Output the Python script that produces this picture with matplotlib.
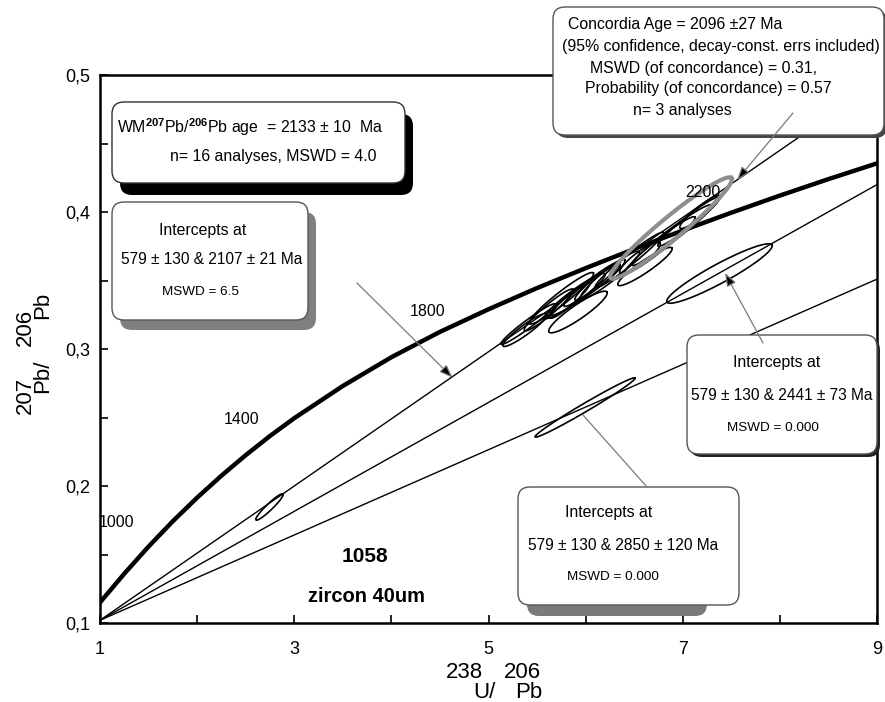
import numpy as np
import matplotlib
matplotlib.use('Agg')
import matplotlib.pyplot as plt
from matplotlib.patches import FancyBboxPatch
from matplotlib.ticker import FuncFormatter

plt.rcParams['font.family'] = ['Liberation Sans', 'DejaVu Sans']
plt.rcParams['mathtext.fontset'] = 'custom'
plt.rcParams['mathtext.rm'] = 'Liberation Sans'
plt.rcParams['mathtext.bf'] = 'Liberation Sans:bold'

# curva concórdia (238U/206Pb, 207Pb/206Pb)
conc_x = [1.0, 1.25, 1.5, 1.75, 2.0, 2.25, 2.5, 2.75, 3.0, 3.5, 4.0, 4.5, 5.0,
          5.5, 6.0, 6.5, 7.0, 7.5, 8.0, 8.5, 9.0]
conc_y = [0.115, 0.136, 0.1558, 0.1743, 0.1915, 0.2075, 0.2225, 0.2365, 0.2495, 0.273, 0.294, 0.3125, 0.329,
          0.3445, 0.359, 0.373, 0.3865, 0.3995, 0.412, 0.424, 0.4355]

# idades marcadas na concórdia
idades = ['1000', '1400', '1800', '2200']
idades_x = [1.175, 2.462, 4.377, 7.208]
idades_y = [0.1737, 0.2482, 0.3277, 0.4139]

# discórdias: intercepto inferior comum e valor em x = 9
disc_x0, disc_y0 = 1.0, 0.102
disc_x1 = 9.0
disc_y1 = [0.494, 0.420, 0.351]

# elipses de erro: centro, meio eixo maior (dx, dy) e razão menor/maior
ell_x = [5.407, 5.376, 5.921, 5.891, 5.994, 6.066, 6.148, 5.839, 6.611, 6.766, 6.889, 7.054, 7.178, 6.560,
         5.75, 6.25, 6.45, 5.62,
         2.745, 7.378, 5.994]
ell_y = [0.3182, 0.3139, 0.3270, 0.3387, 0.3431, 0.3474, 0.3504, 0.3358, 0.3602, 0.3759, 0.3832, 0.3927, 0.4000, 0.3664,
         0.3370, 0.3540, 0.3650, 0.3285,
         0.1847, 0.3551, 0.2573]
ell_dx = [0.278, 0.2265, 0.2986, 0.309, 0.360, 0.288, 0.257, 0.206, 0.278, 0.360, 0.412, 0.309, 0.206, 0.206,
          0.33, 0.30, 0.35, 0.25,
          0.139, 0.5405, 0.515]
ell_dy = [0.0146, 0.0117, 0.0146, 0.0161, 0.0182, 0.0161, 0.0146, 0.0131, 0.0135, 0.0204, 0.0219, 0.0175, 0.0117, 0.0109,
          0.0185, 0.0170, 0.0200, 0.0150,
          0.0095, 0.0208, 0.0215]
ell_r = [0.12, 0.18, 0.20, 0.16, 0.14, 0.14, 0.16, 0.18, 0.18, 0.13, 0.12, 0.13, 0.20, 0.24,
         0.15, 0.17, 0.12, 0.16,
         0.17, 0.16, 0.07]

# elipse da idade concórdia
conc_ell = (6.879, 0.3883, 0.623, 0.0365, 0.14)

# pontos indicados pelas setas das caixas
setas_x = [4.63, 7.559, 7.435, 5.973]
setas_y = [0.279, 0.4234, 0.3555, 0.2518]


def virgula(v, pos):
    return ('%g' % v).replace('.', ',')


fig = plt.figure(figsize=(8.85, 7.02), dpi=100)
ax = fig.add_axes([100 / 885, 79 / 702, 777 / 885, 548 / 702])
ax.set_xlim(1, 9)
ax.set_ylim(0.1, 0.5)

# escala em pixels por unidade, para as elipses ficarem com o eixo menor perpendicular na tela
sx = 777 / 8.0
sy = 548 / 0.4


def elipse(cx, cy, dx, dy, r, **kw):
    t = np.linspace(0, 2 * np.pi, 240)
    ex = -dy * sy / sx * r
    ey = dx * sx / sy * r
    ax.plot(cx + dx * np.cos(t) + ex * np.sin(t), cy + dy * np.cos(t) + ey * np.sin(t), **kw)


# discórdias
for y1 in disc_y1:
    ax.plot([disc_x0, disc_x1], [disc_y0, y1], color='black', lw=1.0, zorder=2)

# concórdia
ax.plot(conc_x, conc_y, color='black', lw=3.2, zorder=3, solid_joinstyle='round')

# elipses
for i in range(len(ell_x)):
    elipse(ell_x[i], ell_y[i], ell_dx[i], ell_dy[i], ell_r[i], color='black', lw=1.2, zorder=4)
elipse(*conc_ell, color='#8e8e8e', lw=3.0, zorder=4)

for s, x, y in zip(idades, idades_x, idades_y):
    ax.text(x, y, s, ha='center', va='center', fontsize=11.5, zorder=5)

ax.text(3.728, 0.1482, '1058', ha='center', va='center', fontsize=15, fontweight='bold')
ax.text(3.749, 0.119, 'zircon 40um', ha='center', va='center', fontsize=14.5, fontweight='bold')

# eixos
ax.set_xticks([1, 3, 5, 7, 9])
ax.set_xticks([2, 4, 6, 8], minor=True)
ax.set_yticks([0.1, 0.2, 0.3, 0.4, 0.5])
ax.set_yticks([0.15, 0.25, 0.35, 0.45], minor=True)
ax.yaxis.set_major_formatter(FuncFormatter(virgula))
ax.tick_params(which='both', direction='in', length=6, width=1.2, top=False, right=False, labelsize=13)
ax.tick_params(axis='x', pad=13)
ax.tick_params(axis='y', pad=7)
for lado in ['left', 'bottom', 'top', 'right']:
    ax.spines[lado].set_linewidth(1.8)

pol = fig.dpi_scale_trans

# rótulos dos eixos com os números de massa acima
for s, x, y in [('207', 0.25, 3.07), ('206', 0.25, 3.75), ('Pb/', 0.43, 3.26), ('Pb', 0.43, 3.97)]:
    fig.text(x, y, s, transform=pol, rotation=90, ha='center', va='center', fontsize=16)
for s, x, y in [('238', 4.64, 0.30), ('206', 5.22, 0.30), ('U/', 4.84, 0.10), ('Pb', 5.29, 0.10)]:
    fig.text(x, y, s, transform=pol, ha='center', va='center', fontsize=16)


def sombra(x0, y0, w, h, cor):
    s = FancyBboxPatch((x0, y0), w, h, boxstyle='round,pad=0,rounding_size=0.12',
                       transform=pol, fc=cor, ec='none', zorder=5, clip_on=False)
    ax.add_artist(s)


def caixa(x0, y0, w, h, borda='#555555'):
    b = FancyBboxPatch((x0, y0), w, h, boxstyle='round,pad=0,rounding_size=0.12',
                       transform=pol, fc='white', ec=borda, lw=1.0, zorder=5.5, clip_on=False)
    ax.add_artist(b)


def linhas(itens):
    for s, x, y, tam in itens:
        ax.text(x, y, s, transform=pol, ha='center', va='center', fontsize=tam,
                zorder=6, clip_on=False)


# caixa da idade média ponderada
sombra(1.20, 5.07, 2.93, 0.81, 'black')
caixa(1.12, 5.19, 2.93, 0.81, borda='#333333')
ax.text(1.17, 5.75, r'WM$^{\mathbf{207}}$Pb/$^{\mathbf{206}}$Pb age  = 2133 ± 10  Ma', transform=pol,
        ha='left', va='center', fontsize=11.4, zorder=6, clip_on=False)
ax.text(1.70, 5.45, 'n= 16 analyses, MSWD = 4.0', transform=pol,
        ha='left', va='center', fontsize=11.4, zorder=6, clip_on=False)

# caixas de interceptos
sombra(1.20, 3.72, 1.96, 1.18, '#808080')
caixa(1.12, 3.82, 1.96, 1.18)
linhas([('Intercepts at', 2.03, 4.72, 11.4),
        ('579 ± 130 & 2107 ± 21 Ma', 2.115, 4.42, 11.2),
        ('MSWD = 6.5', 2.00, 4.10, 9.7)])

sombra(6.90, 2.45, 1.90, 1.19, '#222222')
caixa(6.87, 2.48, 1.90, 1.19)
linhas([('Intercepts at', 7.77, 3.40, 11.4),
        ('579 ± 130 & 2441 ± 73 Ma', 7.82, 3.07, 11.2),
        ('MSWD = 0.000', 7.73, 2.74, 9.7)])

sombra(5.27, 0.86, 1.80, 1.10, '#7a7a7a')
caixa(5.18, 0.97, 2.21, 1.18)
linhas([('Intercepts at', 6.09, 1.90, 11.4),
        ('579 ± 130 & 2850 ± 120 Ma', 6.23, 1.57, 11.2),
        ('MSWD = 0.000', 6.13, 1.25, 9.7)])

# caixa da idade concórdia
sombra(5.56, 5.64, 3.31, 1.28, '#444444')
caixa(5.53, 5.67, 3.31, 1.28)
linhas([('Concordia Age = 2096 ±27 Ma', 6.75, 6.77, 11.4),
        ('(95% confidence, decay-const. errs included)', 7.21, 6.55, 11.4),
        ('MSWD (of concordance) = 0.31,', 7.03, 6.34, 11.4),
        ('Probability (of concordance) = 0.57', 7.08, 6.14, 11.4),
        ('n= 3 analyses', 6.82, 5.92, 11.4)])

# setas das caixas até as elipses / discórdias
origens = [(357, 419), (793, 589), (763, 359), (647, 215)]
estilos = ['-|>,head_length=0.8,head_width=0.3'] * 3 + ['-']
for (ox, oy), x, y, est in zip(origens, setas_x, setas_y, estilos):
    ax.annotate('', xy=(x, y), xycoords='data', xytext=(ox, oy), textcoords='figure pixels',
                arrowprops=dict(arrowstyle=est, ec='#7a7a7a', fc='black', lw=0.9, shrinkA=0, shrinkB=0),
                zorder=7, annotation_clip=False)

fig.savefig('out.png', dpi=100)
